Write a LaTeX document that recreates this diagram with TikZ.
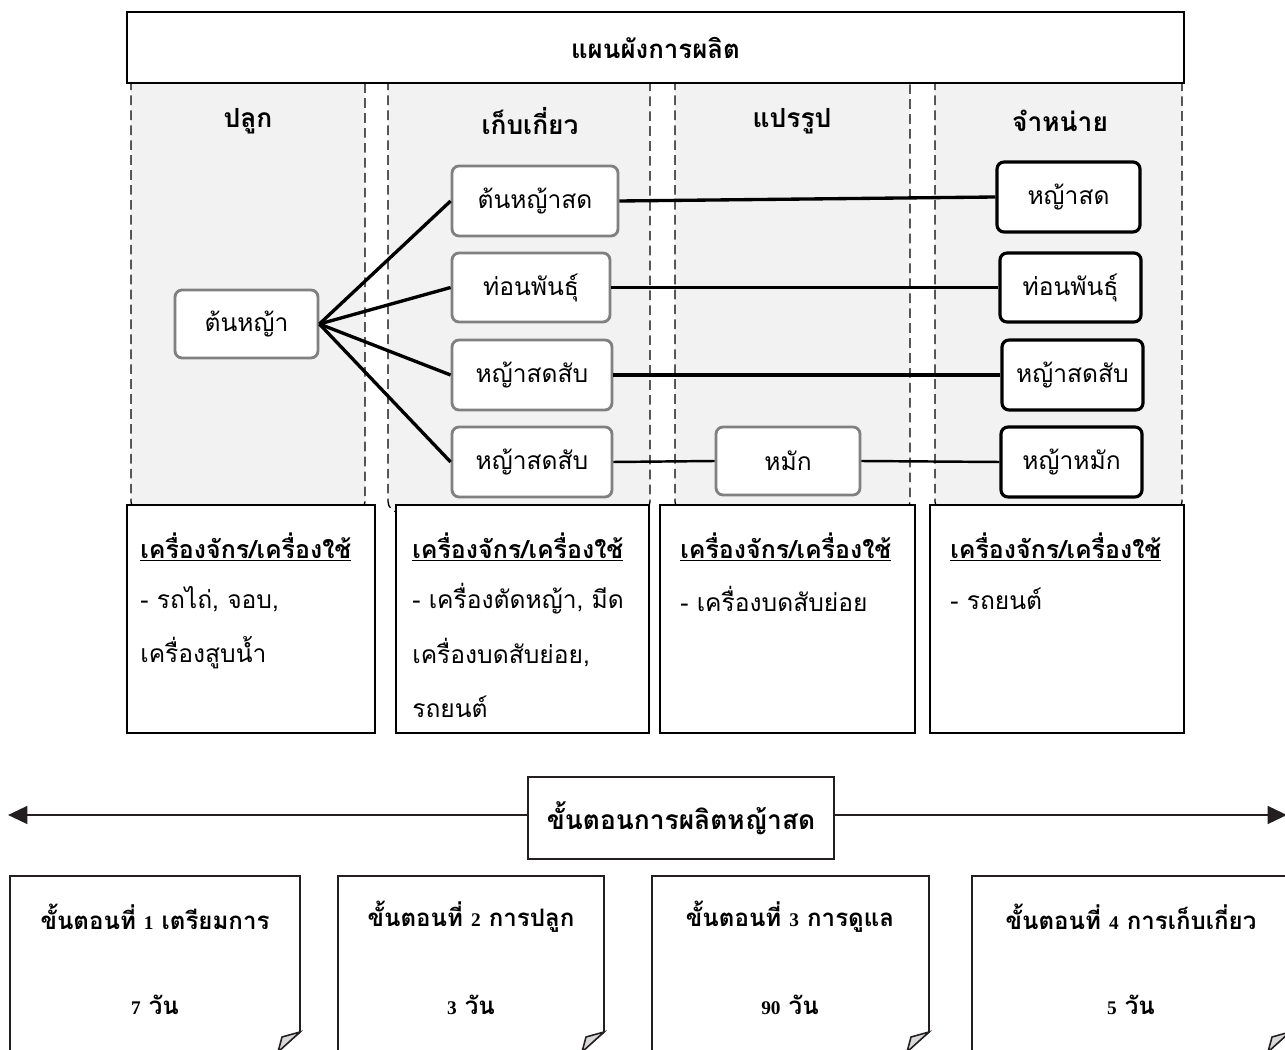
\documentclass[tikz,border=0pt]{standalone}
\usepackage{fontspec}
\newfontfamily\thai[Script=Thai]{Loma}
\newfontfamily\lat{Liberation Serif}
\usetikzlibrary{arrows.meta}
\definecolor{colgray}{HTML}{F2F2F2}
\definecolor{boxgray}{HTML}{808080}
\definecolor{ink}{HTML}{231F20}
\newcommand{\dg}[1]{{\lat\bfseries\fontsize{11}{13}\selectfont #1}}
\begin{document}
\begin{tikzpicture}[x=0.02cm,y=-0.02cm,font=\thai,
  colpath/.style={draw=black,fill=colgray,dash pattern=on 5.5pt off 3pt,line width=0.75pt,rounded corners=6pt},
  gbox/.style={draw=boxgray,line width=1.6pt,rounded corners=4pt,fill=white,inner sep=0pt,
    font=\thai\fontsize{14}{16}\selectfont},
  kbox/.style={gbox,draw=black,line width=1.8pt},
  conn/.style={line width=1.9pt},
  thinconn/.style={line width=1.4pt},
  bbox/.style={draw=black,line width=0.8pt,fill=white},
  hdr/.style={font=\thai\bfseries\fontsize{15}{17}\selectfont},
  btxt/.style={anchor=west,inner sep=0pt,font=\thai\fontsize{14}{16}\selectfont},
  bhead/.style={btxt,font=\thai\bfseries\fontsize{14.2}{16}\selectfont},
  stepline/.style={draw=ink,line width=0.9pt,fill=white},
  steptxt/.style={font=\thai\bfseries\fontsize{13.7}{15}\selectfont}
]
\clip (0,0) rectangle (1285,1050);
\useasboundingbox (0,0) rectangle (1285,1050);

% columns
\path[colpath] (131,70) rectangle (365,512);
\path[colpath] (388,70) rectangle (650,512);
\path[colpath] (675,70) rectangle (910,512);
\path[colpath] (935,70) rectangle (1182,512);

% title
\node[bbox,line width=1pt,minimum width=21.14cm,minimum height=1.42cm,inner sep=0pt,
  font=\thai\bfseries\fontsize{14.7}{17}\selectfont] (title) at (655.5,47.5) {แผนผังการผลิต};

% column headers
\node[hdr] (h-plant) at (248,121) {ปลูก};
\node[hdr] (h-harv) at (530,121) {เก็บเกี่ยว};
\node[hdr] (h-proc) at (792,121) {แปรรูป};
\node[hdr] (h-sell) at (1060,121) {จำหน่าย};

% nodes
\node[gbox,minimum width=2.86cm,minimum height=1.36cm] (root) at (246.5,324) {ต้นหญ้า};
\node[gbox,minimum width=3.32cm,minimum height=1.40cm] (a1) at (535,201) {ต้นหญ้าสด};
\node[gbox,minimum width=3.16cm,minimum height=1.38cm] (a2) at (531,287.5) {ท่อนพันธุ์};
\node[gbox,minimum width=3.20cm,minimum height=1.40cm] (a3) at (532,375) {หญ้าสดสับ};
\node[gbox,minimum width=3.20cm,minimum height=1.40cm] (a4) at (532,462) {หญ้าสดสับ};
\node[gbox,minimum width=2.88cm,minimum height=1.36cm] (m) at (788,461) {หมัก};
\node[kbox,minimum width=2.86cm,minimum height=1.40cm] (s1) at (1068.5,197) {หญ้าสด};
\node[kbox,minimum width=2.82cm,minimum height=1.38cm] (s2) at (1070.5,287.5) {ท่อนพันธุ์};
\node[kbox,minimum width=2.82cm,minimum height=1.40cm] (s3) at (1072.5,375) {หญ้าสดสับ};
\node[kbox,minimum width=2.82cm,minimum height=1.40cm] (s4) at (1071.5,462) {หญ้าหมัก};

% connectors
\draw[conn] (root.east) -- (a1.west);
\draw[conn] (root.east) -- (a2.west);
\draw[conn] (root.east) -- (a3.west);
\draw[conn] (root.east) -- (a4.west);
\draw[conn] (a1.east) -- (s1.west);
\draw[conn] (a2.east) -- (s2.west);
\draw[conn] (a3.east) -- (s3.west);
\draw[thinconn] (a4.east) -- (m.west);
\draw[thinconn] (m.east) -- (s4.west);

% bottom boxes
\node[bbox,minimum width=4.96cm,minimum height=4.56cm] (b1) at (251,619) {};
\node[bbox,minimum width=5.06cm,minimum height=4.56cm] (b2) at (522.5,619) {};
\node[bbox,minimum width=5.10cm,minimum height=4.56cm] (b3) at (787.5,619) {};
\node[bbox,minimum width=5.08cm,minimum height=4.56cm] (b4) at (1057,619) {};

\node[bhead] (b1h) at (140,547) {\underline{เครื่องจักร/เครื่องใช้}};
\node[btxt] (b1a) at (140,599) {- รถไถ่, จอบ,};
\node[btxt] (b1b) at (140,653) {เครื่องสูบน้ำ};

\node[bhead] (b2h) at (412,547) {\underline{เครื่องจักร/เครื่องใช้}};
\node[btxt] (b2a) at (412,599) {- เครื่องตัดหญ้า, มีด};
\node[btxt] (b2b) at (412,653) {เครื่องบดสับย่อย,};
\node[btxt] (b2c) at (412,707) {รถยนต์};

\node[bhead] (b3h) at (680,547) {\underline{เครื่องจักร/เครื่องใช้}};
\node[btxt] (b3a) at (680,599) {- เครื่องบดสับย่อย};

\node[bhead] (b4h) at (950,547) {\underline{เครื่องจักร/เครื่องใช้}};
\node[btxt] (b4a) at (950,599) {- รถยนต์};

% process arrow
\node[draw=ink,line width=1pt,fill=white,minimum width=6.12cm,minimum height=1.64cm,inner sep=0pt,
  font=\thai\bfseries\fontsize{15}{17}\selectfont] (proc) at (681,818) {ขั้นตอนการผลิตหญ้าสด};
\coordinate (lt) at (8,815);
\coordinate (rt) at (1287,815);
\draw[ink,line width=1.6pt,-{Triangle[length=11pt,width=10pt]}] (proc.west |- lt) -- (lt);
\draw[ink,line width=1.6pt,-{Triangle[length=11pt,width=10pt]}] (proc.east |- rt) -- (rt);

% step boxes
\foreach \xa/\xb/\nm in {10/300/p1,338/604/p2,652/929/p3,972/1290/p4}{
  \path[stepline] (\xa,1070) -- (\xa,876) -- (\xb,876) -- (\xb,1032) -- ({\xb-44},1070);
  \filldraw[draw=ink,line width=0.9pt,fill=gray!30] (\xb,1032) -- ({\xb-18},1037) -- ({\xb-22},1052) -- cycle;
  \coordinate (\nm) at ({(\xa+\xb)/2},876);
}
\node[steptxt] (t1) at (155,917) {ขั้นตอนที่ \dg{1} เตรียมการ};
\node[steptxt] (d1) at (155,1005) {\dg{7} วัน};
\node[steptxt] (t2) at (471,917) {ขั้นตอนที่ \dg{2} การปลูก};
\node[steptxt] (d2) at (471,1005) {\dg{3} วัน};
\node[steptxt] (t3) at (790,917) {ขั้นตอนที่ \dg{3} การดูแล};
\node[steptxt] (d3) at (790,1005) {\dg{90} วัน};
\node[steptxt] (t4) at (1131,917) {ขั้นตอนที่ \dg{4} การเก็บเกี่ยว};
\node[steptxt] (d4) at (1131,1005) {\dg{5} วัน};
\end{tikzpicture}
\end{document}
